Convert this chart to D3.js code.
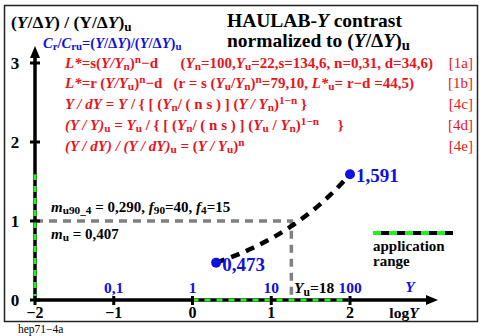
<!DOCTYPE html>
<meta charset="utf-8">
<style>
body { margin: 0; background: #fff; }
svg { font-family: "Liberation Serif", "Times New Roman", serif; font-weight: bold; }
.red { fill: #e8141c; font-size: 15px; }
.blue { fill: #1010e0; }
</style>
<body>
<script src="https://cdnjs.cloudflare.com/ajax/libs/d3/7.8.5/d3.min.js"></script>
<script>
// data
var xTicks = [-2, -1, 0, 1, 2];
var yTicks = [0, 1, 2, 3];
var yLabels = [{x: -1, t: "0,1"}, {x: 0, t: "1"}, {x: 1, t: "10"}, {x: 2, t: "100"}];
var curveLogY = [0.3, 0.5, 0.75, 1.0, 1.25, 1.5, 1.75, 2.0];
var curveVal = [0.473, 0.545, 0.652, 0.779, 0.931, 1.113, 1.330, 1.591];
var endPoints = [{x: 0.3, y: 0.473, t: "0,473"}, {x: 2, y: 1.591, t: "1,591"}];
var logYu = Math.log10(18);
var appX = [0, 2];
var appY = [0, 1.591];

var W = 489, H = 336;
var x = d3.scaleLinear().domain([-2, 2]).range([35, 350]);
var y = d3.scaleLinear().domain([0, 3]).range([300, 63]);

var svg = d3.select("body").append("svg").attr("width", W).attr("height", H);

svg.append("rect").attr("x", 4.5).attr("y", 5.5).attr("width", 473).attr("height", 316)
  .attr("fill", "none").attr("stroke", "#222").attr("stroke-width", 1.5);

function I(s) { return '<tspan font-style="italic">' + s + '</tspan>'; }
function sub(s) { return '<tspan baseline-shift="-22%" font-size="75%">' + s + '</tspan>'; }
function sup(s) { return '<tspan baseline-shift="42%" font-size="75%">' + s + '</tspan>'; }

// grey dashed guides
svg.append("path")
  .attr("d", "M" + x(-2) + "," + y(1) + "H" + x(logYu) + "V" + y(0))
  .attr("fill", "none").attr("stroke", "#808080").attr("stroke-width", 3.5)
  .attr("stroke-dasharray", "8,6");

// axes
svg.append("line").attr("x1", x(-2)).attr("y1", y(0)).attr("x2", 430).attr("y2", y(0))
  .attr("stroke", "#000").attr("stroke-width", 3.5);
svg.append("path").attr("d", "M438," + y(0) + "l-12,-5v10z").attr("fill", "#000");
svg.append("line").attr("x1", x(-2)).attr("y1", y(0)).attr("x2", x(-2)).attr("y2", 55)
  .attr("stroke", "#000").attr("stroke-width", 3.5);
svg.append("path").attr("d", "M" + x(-2) + ",46l-5,12h10z").attr("fill", "#000");

// application range
svg.append("line").attr("x1", x(appX[0])).attr("x2", x(appX[1])).attr("y1", y(0)).attr("y2", y(0))
  .attr("stroke", "#22ee22").attr("stroke-width", 3).attr("stroke-dasharray", "6,6");
svg.append("line").attr("x1", x(-2)).attr("x2", x(-2)).attr("y1", y(appY[0])).attr("y2", y(appY[1]))
  .attr("stroke", "#22ee22").attr("stroke-width", 3).attr("stroke-dasharray", "6,6");

// ticks
svg.selectAll(".xt").data(xTicks).enter().append("line")
  .attr("x1", d => x(d)).attr("x2", d => x(d)).attr("y1", y(0) - 4).attr("y2", y(0) + 5)
  .attr("stroke", "#000").attr("stroke-width", 3);
svg.selectAll(".yt").data(yTicks).enter().append("line")
  .attr("x1", x(-2) - 5).attr("x2", x(-2) + 5).attr("y1", d => y(d)).attr("y2", d => y(d))
  .attr("stroke", "#000").attr("stroke-width", 3);

svg.selectAll(".xl").data(xTicks).enter().append("text")
  .attr("x", d => x(d)).attr("y", 318).attr("text-anchor", "middle").attr("font-size", 16)
  .text(d => d < 0 ? "\u2212" + (-d) : d);
svg.selectAll(".yl").data(yTicks).enter().append("text")
  .attr("x", 15).attr("y", d => y(d) + 6).attr("text-anchor", "middle").attr("font-size", 17)
  .text(d => d);
svg.selectAll(".yv").data(yLabels).enter().append("text").attr("class", "blue")
  .attr("x", d => x(d.x)).attr("y", 293).attr("text-anchor", "middle").attr("font-size", 15.5)
  .text(d => d.t);
svg.append("text").attr("x", 294).attr("y", 293).attr("font-size", 15.5)
  .html(I("Y") + sub("u") + "=18");
svg.append("text").attr("class", "blue").attr("x", 410).attr("y", 292).attr("text-anchor", "middle")
  .attr("font-size", 15.5).attr("font-style", "italic").text("Y");
svg.append("text").attr("x", 404).attr("y", 318).attr("text-anchor", "middle").attr("font-size", 15.5)
  .html("log" + I("Y"));

// curve
var line = d3.line().x((d, i) => x(d)).y((d, i) => y(curveVal[i])).curve(d3.curveMonotoneX);
svg.append("path").attr("d", line(curveLogY)).attr("fill", "none").attr("stroke", "#000")
  .attr("stroke-width", 4.5).attr("stroke-dasharray", "9,7");

svg.selectAll(".pt").data(endPoints).enter().append("circle")
  .attr("cx", d => x(d.x)).attr("cy", d => y(d.y)).attr("r", 5).attr("fill", "#1010e0");
svg.selectAll(".ptl").data(endPoints).enter().append("text").attr("class", "blue")
  .attr("x", d => x(d.x) + 6).attr("y", d => y(d.y) + 8).attr("font-size", 19)
  .text(d => d.t);

// legend
svg.append("line").attr("x1", 373).attr("x2", 453).attr("y1", 233).attr("y2", 233)
  .attr("stroke", "#000").attr("stroke-width", 4);
svg.append("line").attr("x1", 373).attr("x2", 453).attr("y1", 233).attr("y2", 233)
  .attr("stroke", "#22ee22").attr("stroke-width", 4).attr("stroke-dasharray", "8,8");
svg.append("text").attr("x", 373).attr("y", 251).attr("font-size", 15).text("application");
svg.append("text").attr("x", 373).attr("y", 266).attr("font-size", 15).text("range");

// titles
svg.append("text").attr("x", 11).attr("y", 28).attr("font-size", 17.5)
  .html("(" + I("Y") + "/\u0394" + I("Y") + ") / (Y/\u0394" + I("Y") + ")" + sub("u"));
svg.append("text").attr("x", 227).attr("y", 27).attr("font-size", 19.5)
  .html("HAULAB-" + I("Y") + " contrast");
svg.append("text").attr("x", 227).attr("y", 47).attr("font-size", 19.5)
  .html("normalized to (" + I("Y") + "/\u0394" + I("Y") + ")" + sub("u"));
svg.append("text").attr("class", "blue").attr("x", 43).attr("y", 48).attr("font-size", 14.5)
  .html(I("C") + sub("r") + "/" + I("C") + sub("ru") + "=(" + I("Y") + "/\u0394" + I("Y") + ")/(" + I("Y") + "/\u0394" + I("Y") + ")" + sub("u"));

// red formulas
var formulas = [
  I("L*") + "=s(" + I("Y/Y") + sub("n") + ")" + sup("n") + "\u2212d\u2003\u2002(" + I("Y") + sub("n") + "=100," + I("Y") + sub("u") + "=22,s=134,6, n=0,31, d=34,6)",
  I("L*") + "=r (" + I("Y/Y") + sub("u") + ")" + sup("n") + "\u2212d\u2002 (r = s (" + I("Y") + sub("u") + "/" + I("Y") + sub("n") + ")" + sup("n") + "=79,10, " + I("L*") + sub("u") + "= r\u2212d =44,5)",
  I("Y / dY") + " = " + I("Y") + " / { [ (" + I("Y") + sub("n") + "/ ( n s ) ] (" + I("Y / Y") + sub("n") + ")" + sup("1\u2212n") + " }",
  I("(Y / Y)") + sub("u") + " = " + I("Y") + sub("u") + " / { [ (" + I("Y") + sub("n") + "/ ( n s ) ] (" + I("Y") + sub("u") + " / " + I("Y") + sub("n") + ")" + sup("1\u2212n") + "\u2003 }",
  I("(Y / dY) / (Y / dY)") + sub("u") + " = (" + I("Y / Y") + sub("u") + ")" + sup("n")
];
var tags = ["[1a]", "[1b]", "[4c]", "[4d]", "[4e]"];
var fy = [68, 88, 109, 130, 151];
var fx = [65, 65, 65, 65, 65];
svg.selectAll(".f").data(formulas).enter().append("text").attr("class", "red")
  .attr("x", (d, i) => fx[i]).attr("y", (d, i) => fy[i]).html(d => d);
svg.selectAll(".tg").data(tags).enter().append("text").attr("class", "red")
  .attr("x", 473).attr("y", (d, i) => fy[i]).attr("text-anchor", "end").attr("font-weight", "normal")
  .text(d => d);

// notes
svg.append("text").attr("x", 51).attr("y", 212).attr("font-size", 15)
  .html(I("m") + sub("u90_4") + " = 0,290, " + I("f") + sub("90") + "=40, " + I("f") + sub("4") + "=15");
svg.append("text").attr("x", 51).attr("y", 239).attr("font-size", 15)
  .html(I("m") + sub("u") + " = 0,407");
svg.append("text").attr("x", 18).attr("y", 333).attr("font-size", 11.5).attr("font-weight", "normal")
  .text("hep71\u22124a");
</script>
</body>
